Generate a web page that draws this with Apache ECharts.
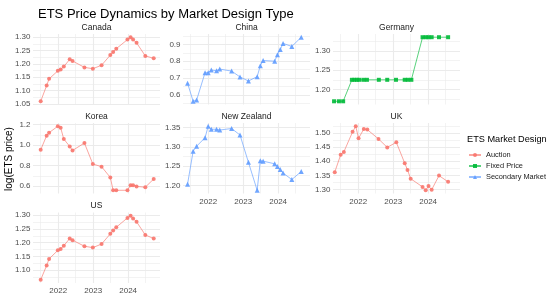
<!DOCTYPE html>
<html><head><meta charset="utf-8">
<script src="https://cdn.jsdelivr.net/npm/echarts@6/dist/echarts.min.js"></script>
<style>html,body{margin:0;padding:0;background:#fff}#c{width:550px;height:300px}</style>
</head><body><div id="c"></div>
<script>
// ---------------- DATA ----------------
const xTickLabels = [2022, 2023, 2024];
const xMinorBreaks = [2021.5, 2022.5, 2023.5, 2024.5];
const xRange = [2021.28, 2024.91];

const auctionYears = [2021.50, 2021.67, 2021.74, 2021.99, 2022.07, 2022.16, 2022.33, 2022.41, 2022.75, 2022.99, 2023.24, 2023.49, 2023.57, 2023.66, 2023.98, 2024.07, 2024.14, 2024.24, 2024.49, 2024.73];
const canadaValues = [1.060, 1.119, 1.144, 1.174, 1.179, 1.190, 1.217, 1.211, 1.187, 1.182, 1.195, 1.233, 1.245, 1.257, 1.291, 1.300, 1.291, 1.279, 1.230, 1.221];
const koreaValues = [0.954, 1.092, 1.121, 1.184, 1.170, 1.059, 0.987, 0.948, 1.020, 0.816, 0.790, 0.685, 0.560, 0.560, 0.560, 0.610, 0.610, 0.598, 0.590, 0.670];
const usValues = [1.065, 1.117, 1.141, 1.172, 1.177, 1.189, 1.215, 1.209, 1.187, 1.182, 1.195, 1.232, 1.244, 1.256, 1.290, 1.298, 1.288, 1.276, 1.228, 1.215];

const secondaryYears = [2021.41, 2021.57, 2021.67, 2021.91, 2022.00, 2022.09, 2022.24, 2022.33, 2022.67, 2022.91, 2023.15, 2023.40, 2023.49, 2023.57, 2023.90, 2023.98, 2024.06, 2024.14, 2024.39, 2024.66];
const chinaValues = [0.669, 0.561, 0.569, 0.731, 0.731, 0.747, 0.743, 0.753, 0.741, 0.706, 0.682, 0.708, 0.773, 0.804, 0.800, 0.839, 0.869, 0.906, 0.888, 0.943];
const nzValues = [1.203, 1.289, 1.302, 1.324, 1.354, 1.346, 1.346, 1.344, 1.348, 1.331, 1.260, 1.187, 1.264, 1.263, 1.256, 1.249, 1.241, 1.232, 1.215, 1.236];

const germanyYears = [2021.31, 2021.45, 2021.57, 2021.82, 2021.89, 2021.96, 2022.03, 2022.15, 2022.25, 2022.59, 2022.83, 2023.08, 2023.33, 2023.42, 2023.52, 2023.84, 2023.93, 2024.01, 2024.10, 2024.31, 2024.57];
const germanyValues = [1.169, 1.169, 1.169, 1.225, 1.225, 1.225, 1.225, 1.225, 1.225, 1.225, 1.225, 1.225, 1.225, 1.225, 1.225, 1.336, 1.336, 1.336, 1.336, 1.336, 1.336];

const ukYears = [2021.33, 2021.50, 2021.59, 2021.84, 2021.93, 2022.01, 2022.16, 2022.26, 2022.58, 2022.83, 2023.09, 2023.33, 2023.41, 2023.50, 2023.84, 2023.93, 2024.01, 2024.10, 2024.31, 2024.57];
const ukValues = [1.361, 1.423, 1.433, 1.504, 1.524, 1.481, 1.514, 1.512, 1.479, 1.449, 1.467, 1.393, 1.369, 1.338, 1.309, 1.297, 1.312, 1.299, 1.349, 1.327];

const canadaTicks = [1.05, 1.10, 1.15, 1.20, 1.25, 1.30];
const chinaTicks = [0.6, 0.7, 0.8, 0.9];
const germanyTicks = [1.20, 1.25, 1.30];
const koreaTicks = [0.6, 0.8, 1.0, 1.2];
const nzTicks = [1.20, 1.25, 1.30, 1.35];
const ukTicks = [1.30, 1.35, 1.40, 1.45, 1.50];
const usTicks = [1.10, 1.15, 1.20, 1.25, 1.30];

const designNames = ['Auction', 'Fixed Price', 'Secondary Market'];

// ---------------- STYLE / LAYOUT ----------------
const designStyle = {
  'Auction': {color: '#F8766D', symbol: 'circle', size: 4},
  'Fixed Price': {color: '#00BA38', symbol: 'rect', size: 4},
  'Secondary Market': {color: '#619CFF', symbol: 'triangle', size: 5}
};
const FONT = '"Liberation Sans", Arial, sans-serif';
const colLeft = [33, 183, 333];
const rowTop = [34, 123, 212.5];
const PW = 127, PH = 70.5;

const panels = [
  {name: 'Canada', design: 'Auction', years: auctionYears, values: canadaValues, ticks: canadaTicks, dec: 2, col: 0, row: 0, showX: false},
  {name: 'China', design: 'Secondary Market', years: secondaryYears, values: chinaValues, ticks: chinaTicks, dec: 1, col: 1, row: 0, showX: false},
  {name: 'Germany', design: 'Fixed Price', years: germanyYears, values: germanyValues, ticks: germanyTicks, dec: 2, col: 2, row: 0, showX: false},
  {name: 'Korea', design: 'Auction', years: auctionYears, values: koreaValues, ticks: koreaTicks, dec: 1, col: 0, row: 1, showX: false},
  {name: 'New Zealand', design: 'Secondary Market', years: secondaryYears, values: nzValues, ticks: nzTicks, dec: 2, col: 1, row: 1, showX: true},
  {name: 'UK', design: 'Auction', years: ukYears, values: ukValues, ticks: ukTicks, dec: 2, col: 2, row: 1, showX: true},
  {name: 'US', design: 'Auction', years: auctionYears, values: usValues, ticks: usTicks, dec: 2, col: 0, row: 2, showX: true}
];

const grids = [], xAxes = [], yAxes = [], series = [], graphics = [];
const gridColor = '#EBEBEB';

panels.forEach((p, i) => {
  const left = colLeft[p.col], top = rowTop[p.row];
  grids.push({left: left, top: top, width: PW, height: PH, containLabel: false});
  const lo = Math.min(...p.values), hi = Math.max(...p.values);
  const pad = (hi - lo) * 0.05;
  const yMin = lo - pad, yMax = hi + pad;
  const step = p.ticks[1] - p.ticks[0];
  const minor = [];
  for (let k = -1; k < p.ticks.length; k++) {
    const v = p.ticks[0] + (k + 0.5) * step;
    if (v > yMin && v < yMax) minor.push(+v.toFixed(4));
  }
  xAxes.push({
    gridIndex: i, type: 'value', min: xRange[0], max: xRange[1],
    axisLine: {show: false}, axisTick: {show: false, customValues: xMinorBreaks},
    axisLabel: {show: false}, splitLine: {show: true, lineStyle: {color: gridColor, width: 0.6}}
  });
  xAxes.push({
    gridIndex: i, type: 'value', min: xRange[0], max: xRange[1], position: 'bottom',
    axisLine: {show: false}, axisTick: {show: false, customValues: xTickLabels},
    axisLabel: {show: p.showX, customValues: xTickLabels, fontSize: 8, color: '#4D4D4D', fontFamily: FONT, margin: 4, formatter: v => String(Math.round(v))},
    splitLine: {show: true, lineStyle: {color: gridColor, width: 1.1}}
  });
  yAxes.push({
    gridIndex: i, type: 'value', min: yMin, max: yMax, position: 'right',
    axisLine: {show: false}, axisTick: {show: false, customValues: minor},
    axisLabel: {show: false}, splitLine: {show: true, lineStyle: {color: gridColor, width: 0.6}}
  });
  yAxes.push({
    gridIndex: i, type: 'value', min: yMin, max: yMax, position: 'left',
    axisLine: {show: false}, axisTick: {show: false, customValues: p.ticks},
    axisLabel: {show: true, customValues: p.ticks, fontSize: 8, color: '#4D4D4D', fontFamily: FONT, margin: 2.5, formatter: v => v.toFixed(p.dec)},
    splitLine: {show: true, lineStyle: {color: gridColor, width: 1.1}}
  });
  const st = designStyle[p.design];
  series.push({
    name: p.design, type: 'line', xAxisIndex: 2 * i + 1, yAxisIndex: 2 * i + 1,
    data: p.years.map((yr, k) => [yr, p.values[k]]),
    symbol: st.symbol, symbolSize: st.size, showSymbol: true,
    color: st.color,
    itemStyle: {color: st.color, opacity: 0.9},
    lineStyle: {color: st.color, width: 1, opacity: 0.65},
    emphasis: {disabled: true}, clip: false, animation: false
  });
  graphics.push({
    type: 'text', x: left + PW / 2, y: top - 6.5,
    style: {text: p.name, fill: '#1A1A1A', font: '8.5px ' + FONT, align: 'center', verticalAlign: 'middle', textAlign: 'center', textVerticalAlign: 'middle'}
  });
});

graphics.push({
  type: 'text', x: 9, y: 159, rotation: Math.PI / 2,
  style: {text: 'log(ETS price)', fill: '#000', font: '10px ' + FONT, align: 'center', verticalAlign: 'middle', textAlign: 'center', textVerticalAlign: 'middle'}
});

const chart = echarts.init(document.getElementById('c'), null, {renderer: 'canvas'});
chart.setOption({
  animation: false,
  backgroundColor: '#fff',
  title: [
    {text: 'ETS Price Dynamics by Market Design Type', left: 33, top: 3, textStyle: {fontSize: 13, fontWeight: 'normal', color: '#000', fontFamily: FONT}},
    {text: 'ETS Market Design', left: 467, top: 135, padding: 0, textStyle: {fontSize: 9.2, fontWeight: 'normal', color: '#000', fontFamily: FONT}}
  ],
  legend: {
    data: designNames, orient: 'vertical', left: 468, top: 151, padding: 0,
    itemWidth: 12, itemHeight: 5, itemGap: 3, itemTextGap: 4,
    textStyle: {fontSize: 7.4, color: '#1A1A1A', fontFamily: FONT, lineHeight: 8},
    selectedMode: false
  },
  grid: grids, xAxis: xAxes, yAxis: yAxes, series: series, graphic: graphics
});
</script></body></html>
